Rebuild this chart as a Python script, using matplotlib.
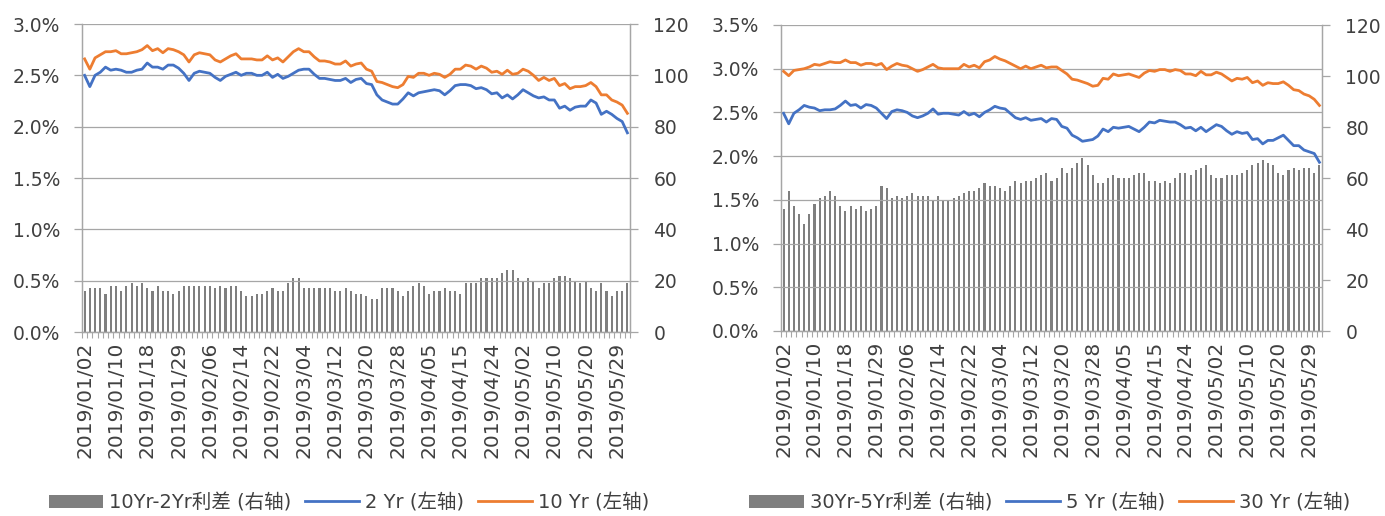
#!/usr/bin/env python3
"""
US treasury yields, 2019/01 - 2019/05: two panels, spread bars on the right axis.
python3 plot.py  ->  out.png
"""

import numpy as np
import pandas as pd
import matplotlib
matplotlib.use("Agg")
import matplotlib.pyplot as plt
from matplotlib.ticker import FuncFormatter, MultipleLocator


plt.rcParams["font.family"] = ["DejaVu Sans", "Noto Sans CJK SC"]

# -----------------------------
# Data
# -----------------------------
holidays = ["2019-01-21", "2019-04-19", "2019-05-27"]
dates = pd.bdate_range("2019-01-02", "2019-05-31").drop(pd.to_datetime(holidays))
date_labels = list(dates.strftime("%Y/%m/%d"))

yield_10y = [2.66, 2.56, 2.67, 2.70, 2.73, 2.73, 2.74, 2.71, 2.71, 2.72,
             2.73, 2.75, 2.79, 2.74, 2.76, 2.72, 2.76, 2.75, 2.73, 2.70,
             2.63, 2.70, 2.72, 2.71, 2.70, 2.65, 2.63, 2.66, 2.69, 2.71,
             2.66, 2.66, 2.66, 2.65, 2.65, 2.69, 2.65, 2.67, 2.63, 2.68,
             2.73, 2.76, 2.73, 2.73, 2.68, 2.64, 2.64, 2.63, 2.61, 2.61,
             2.64, 2.59, 2.61, 2.62, 2.56, 2.54, 2.44, 2.43, 2.41, 2.39,
             2.38, 2.41, 2.49, 2.48, 2.52, 2.52, 2.50, 2.52, 2.51, 2.48,
             2.51, 2.56, 2.56, 2.60, 2.59, 2.56, 2.59, 2.57, 2.53, 2.54,
             2.51, 2.55, 2.51, 2.52, 2.56, 2.54, 2.50, 2.45, 2.48, 2.45,
             2.47, 2.40, 2.42, 2.37, 2.39, 2.39, 2.40, 2.43, 2.39, 2.31,
             2.31, 2.26, 2.24, 2.21, 2.13]

yield_2y = [2.50, 2.39, 2.50, 2.53, 2.58, 2.55, 2.56, 2.55, 2.53, 2.53,
            2.55, 2.56, 2.62, 2.58, 2.58, 2.56, 2.60, 2.60, 2.57, 2.52,
            2.45, 2.52, 2.54, 2.53, 2.52, 2.48, 2.45, 2.49, 2.51, 2.53,
            2.50, 2.52, 2.52, 2.50, 2.50, 2.53, 2.48, 2.51, 2.47, 2.49,
            2.52, 2.55, 2.56, 2.56, 2.51, 2.47, 2.47, 2.46, 2.45, 2.45,
            2.47, 2.43, 2.46, 2.47, 2.42, 2.41, 2.31, 2.26, 2.24, 2.22,
            2.22, 2.27, 2.33, 2.30, 2.33, 2.34, 2.35, 2.36, 2.35, 2.31,
            2.35, 2.40, 2.41, 2.41, 2.40, 2.37, 2.38, 2.36, 2.32, 2.33,
            2.28, 2.31, 2.27, 2.31, 2.36, 2.33, 2.30, 2.28, 2.29, 2.26,
            2.26, 2.18, 2.20, 2.16, 2.19, 2.20, 2.20, 2.26, 2.23, 2.12,
            2.15, 2.12, 2.08, 2.05, 1.94]

spread_10_2 = [16, 17, 17, 17, 15, 18, 18, 16, 18, 19,
               18, 19, 17, 16, 18, 16, 16, 15, 16, 18,
               18, 18, 18, 18, 18, 17, 18, 17, 18, 18,
               16, 14, 14, 15, 15, 16, 17, 16, 16, 19,
               21, 21, 17, 17, 17, 17, 17, 17, 16, 16,
               17, 16, 15, 15, 14, 13, 13, 17, 17, 17,
               16, 14, 16, 18, 19, 18, 15, 16, 16, 17,
               16, 16, 15, 19, 19, 19, 21, 21, 21, 21,
               23, 24, 24, 21, 20, 21, 20, 17, 19, 19,
               21, 22, 22, 21, 20, 19, 20, 17, 16, 19,
               16, 14, 16, 16, 19]

yield_30y = [2.97, 2.92, 2.98, 2.99, 3.00, 3.02, 3.05, 3.04, 3.06, 3.08,
             3.07, 3.07, 3.10, 3.07, 3.07, 3.04, 3.06, 3.06, 3.04, 3.06,
             2.99, 3.03, 3.06, 3.04, 3.03, 3.00, 2.97, 2.99, 3.02, 3.05,
             3.01, 3.00, 3.00, 3.00, 3.00, 3.05, 3.02, 3.04, 3.01, 3.08,
             3.10, 3.14, 3.11, 3.09, 3.06, 3.03, 3.00, 3.03, 3.00, 3.02,
             3.04, 3.01, 3.02, 3.02, 2.98, 2.94, 2.88, 2.87, 2.85, 2.83,
             2.80, 2.81, 2.89, 2.88, 2.94, 2.92, 2.93, 2.94, 2.92, 2.90,
             2.95, 2.98, 2.97, 2.99, 2.99, 2.97, 2.99, 2.98, 2.94, 2.94,
             2.92, 2.97, 2.93, 2.93, 2.96, 2.94, 2.90, 2.86, 2.89, 2.88,
             2.90, 2.84, 2.86, 2.81, 2.84, 2.83, 2.83, 2.85, 2.81, 2.76,
             2.75, 2.71, 2.69, 2.65, 2.58]

yield_5y = [2.49, 2.37, 2.49, 2.53, 2.58, 2.56, 2.55, 2.52, 2.53, 2.53,
            2.54, 2.58, 2.63, 2.58, 2.59, 2.55, 2.59, 2.58, 2.55, 2.49,
            2.43, 2.51, 2.53, 2.52, 2.50, 2.46, 2.44, 2.46, 2.49, 2.54,
            2.48, 2.49, 2.49, 2.48, 2.47, 2.51, 2.47, 2.49, 2.45, 2.50,
            2.53, 2.57, 2.55, 2.54, 2.49, 2.44, 2.42, 2.44, 2.41, 2.42,
            2.43, 2.39, 2.43, 2.42, 2.34, 2.32, 2.24, 2.21, 2.17, 2.18,
            2.19, 2.23, 2.31, 2.28, 2.33, 2.32, 2.33, 2.34, 2.31, 2.28,
            2.33, 2.39, 2.38, 2.41, 2.40, 2.39, 2.39, 2.36, 2.32, 2.33,
            2.29, 2.33, 2.28, 2.32, 2.36, 2.34, 2.29, 2.25, 2.28, 2.26,
            2.27, 2.19, 2.20, 2.14, 2.18, 2.18, 2.21, 2.24, 2.18, 2.12,
            2.12, 2.07, 2.05, 2.03, 1.93]

spread_30_5 = [48, 55, 49, 46, 42, 46, 50, 52, 53, 55,
               53, 49, 47, 49, 48, 49, 47, 48, 49, 57,
               56, 52, 53, 52, 53, 54, 53, 53, 53, 51,
               53, 51, 51, 52, 53, 54, 55, 55, 56, 58,
               57, 57, 56, 55, 57, 59, 58, 59, 59, 60,
               61, 62, 59, 60, 64, 62, 64, 66, 68, 65,
               61, 58, 58, 60, 61, 60, 60, 60, 61, 62,
               62, 59, 59, 58, 59, 58, 60, 62, 62, 61,
               63, 64, 65, 61, 60, 60, 61, 61, 61, 62,
               63, 65, 66, 67, 66, 65, 62, 61, 63, 64,
               63, 64, 64, 62, 65]

BLUE = "#4472C4"
ORANGE = "#ED7D31"
BAR_GRAY = "#7F7F7F"
GRID = "#A6A6A6"
TEXT = "#404040"


# -----------------------------
# One panel
# -----------------------------
def draw_panel(fig, rect, short, long_, spread, labels, ymax, legend_x):
    ax = fig.add_axes(rect)
    ax2 = ax.twinx()
    x = np.arange(len(date_labels))

    bars = ax2.bar(x, spread, width=0.4, color=BAR_GRAY, label=labels[0])
    l1, = ax.plot(x, short, color=BLUE, lw=2.0, label=labels[1])
    l2, = ax.plot(x, long_, color=ORANGE, lw=2.0, label=labels[2])

    # lines above the bars
    ax.set_zorder(ax2.get_zorder() + 1)
    ax.patch.set_visible(False)

    ax.set_xlim(-0.5, len(x) - 0.5)
    ax.set_ylim(0, ymax)
    ax.yaxis.set_major_locator(MultipleLocator(0.5))
    ax.yaxis.set_major_formatter(FuncFormatter(lambda v, p: f"{v:.1f}%"))
    ax.grid(axis="y", color=GRID, lw=0.9)
    ax.set_axisbelow(True)

    ax2.set_ylim(0, 120)
    ax2.yaxis.set_major_locator(MultipleLocator(20))

    ax.set_xticks(x[::6])
    ax.set_xticklabels(date_labels[::6], rotation=90)
    ax.set_xticks(np.arange(-0.5, len(x), 1.0), minor=True)

    ax.tick_params(axis="x", which="major", length=0, pad=7,
                   labelsize=14.5, labelcolor=TEXT)
    ax.tick_params(axis="x", which="minor", length=4, color=GRID, width=0.8)
    ax.tick_params(axis="y", length=5.8, color=GRID, width=0.9, pad=10,
                   labelsize=13.5, labelcolor=TEXT)
    ax2.tick_params(axis="y", length=5.8, color=GRID, width=0.9, pad=11,
                    labelsize=13.5, labelcolor=TEXT)

    for a in (ax, ax2):
        for name, sp in a.spines.items():
            sp.set_color(GRID)
            sp.set_linewidth(0.9)
        a.spines["top"].set_visible(False)

    fig.legend([bars, l1, l2], labels, loc="center",
               bbox_to_anchor=(legend_x, 0.026), ncol=3, frameon=False,
               fontsize=14, handlelength=2.8, handletextpad=0.3,
               columnspacing=0.7, labelcolor=TEXT)


# -----------------------------
# Main
# -----------------------------
def main():
    fig = plt.figure(figsize=(13.85, 5.16), dpi=100)

    draw_panel(fig, [82 / 1385, 1 - 332 / 516, 548 / 1385, 308 / 516],
               yield_2y, yield_10y, spread_10_2,
               ["10Yr-2Yr利差 (右轴)", "2 Yr (左轴)", "10 Yr (左轴)"],
               3.0, 0.252)

    draw_panel(fig, [781 / 1385, 1 - 331 / 516, 541 / 1385, 306 / 516],
               yield_5y, yield_30y, spread_30_5,
               ["30Yr-5Yr利差 (右轴)", "5 Yr (左轴)", "30 Yr (左轴)"],
               3.5, 0.758)

    fig.savefig("out.png", dpi=100)
    plt.close(fig)


if __name__ == "__main__":
    main()
